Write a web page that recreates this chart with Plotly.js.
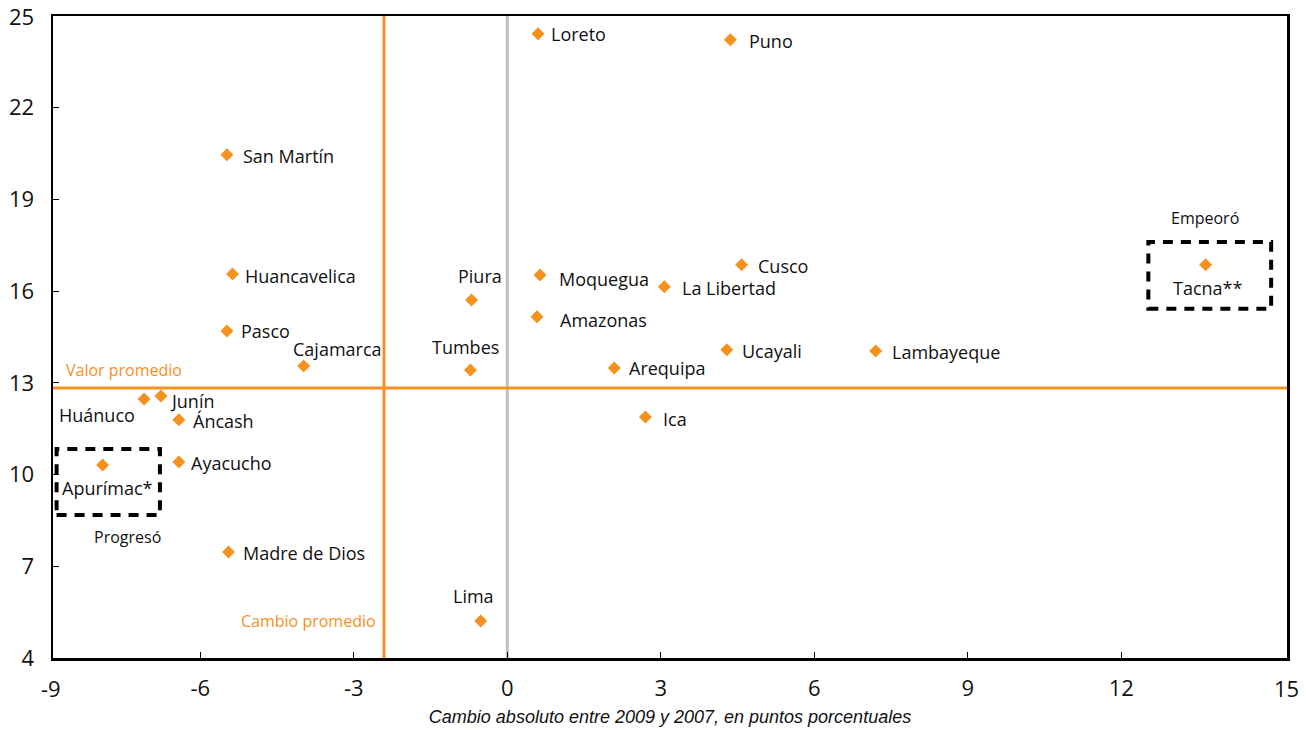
<!DOCTYPE html>
<html><head><meta charset="utf-8">
<script src="https://cdn.plot.ly/plotly-3.0.1.min.js"></script>
<style>html,body{margin:0;padding:0;background:#fff}#chart{width:1306px;height:730px}</style>
</head><body><div id="chart"></div>
<script>
// ---- data ----
const regions = ['Loreto','Puno','San Martín','Huancavelica','Pasco','Cajamarca','Junín','Huánuco','Áncash','Ayacucho','Apurímac*','Madre de Dios','Lima','Piura','Tumbes','Moquegua','Amazonas','La Libertad','Cusco','Arequipa','Ucayali','Lambayeque','Ica','Tacna**'];
const changeX = [0.60, 4.36, -5.48, -5.37, -5.48, -3.98, -6.77, -7.10, -6.42, -6.42, -7.91, -5.45, -0.52, -0.70, -0.72, 0.64, 0.58, 3.07, 4.58, 2.09, 4.29, 7.20, 2.70, 13.65];
const valueY = [24.42, 24.22, 20.46, 16.56, 14.70, 13.55, 12.57, 12.47, 11.79, 10.41, 10.31, 7.47, 5.21, 15.71, 13.42, 16.53, 15.16, 16.14, 16.86, 13.49, 14.08, 14.04, 11.88, 16.86];
const meanChange = -2.41;
const meanValue = 12.83;
const xTicks = [-9, -6, -3, 0, 3, 6, 9, 12, 15];
const yTicks = [4, 7, 10, 13, 16, 19, 22, 25];
const xRange = [-8.88, 15.24];   // axis extent as drawn in the source (end labels -9 / 15 sit on the frame)
const yRange = [4, 25];
const xTitle = 'Cambio absoluto entre 2009 y 2007, en puntos porcentuales';
// highlighted groups (box bounds in data units)
const improvedBox = {x0: -8.81, x1: -6.79, y0: 8.68, y1: 10.84};
const worsenedBox = {x0: 12.53, x1: 14.93, y0: 15.42, y1: 17.61};

// ---- label placement (style) ----
const labelStyle = {
 'Loreto': ['left', 11, 0], 'Puno': ['left', 17, -1], 'San Martín': ['left', 14, -1],
 'Huancavelica': ['left', 10, -2], 'Pasco': ['left', 12, 0], 'Cajamarca': ['center', 34, 17],
 'Junín': ['left', 7, -5], 'Huánuco': ['center', -47, -16], 'Áncash': ['left', 12, -1],
 'Ayacucho': ['left', 10, -1], 'Apurímac*': ['center', 5, -23], 'Madre de Dios': ['left', 13, -1],
 'Lima': ['center', -7, 25], 'Piura': ['center', 8, 24], 'Tumbes': ['center', -5, 23],
 'Moquegua': ['left', 17, -4], 'Amazonas': ['left', 21, -3], 'La Libertad': ['left', 16, -1],
 'Cusco': ['left', 14, -1], 'Arequipa': ['left', 13, 0], 'Ucayali': ['left', 13, -1],
 'Lambayeque': ['left', 14, -1], 'Ica': ['left', 16, -2], 'Tacna**': ['center', 2, -23]
};

const ORANGE = '#F5911E';
const FONT = '"Open Sans", "DejaVu Sans", sans-serif';
const TICKSIZE = 22;

const annotations = regions.map((r, i) => {
  const s = labelStyle[r];
  return {x: changeX[i], y: valueY[i], xref: 'x', yref: 'y', text: r, showarrow: false,
    xanchor: s[0], yanchor: 'middle', xshift: s[1], yshift: s[2],
    font: {family: FONT, size: 18, color: '#111'}};
});
annotations.push(
  {x: xRange[0], y: meanValue, xref: 'x', yref: 'y', text: 'Valor promedio', showarrow: false, xanchor: 'left', yanchor: 'middle', xshift: 11, yshift: 18, font: {family: FONT, size: 16, color: ORANGE}},
  {x: meanChange, y: 5.2, xref: 'x', yref: 'y', text: 'Cambio promedio', showarrow: false, xanchor: 'right', yanchor: 'middle', xshift: -6, font: {family: FONT, size: 16, color: ORANGE}},
  {x: 13.63, y: 18.40, xref: 'x', yref: 'y', text: 'Empeoró', showarrow: false, font: {family: FONT, size: 16, color: '#111'}},
  {x: -7.42, y: 7.96, xref: 'x', yref: 'y', text: 'Progresó', showarrow: false, font: {family: FONT, size: 16, color: '#111'}}
);
// end tick labels that sit on the frame
[xTicks[0], xTicks[xTicks.length - 1]].forEach((v, k) => {
  annotations.push({x: k, y: 0, xref: 'paper', yref: 'paper', text: String(v), showarrow: false,
    xanchor: 'center', yanchor: 'middle', xshift: k ? -1 : -2, yshift: -30,
    font: {family: FONT, size: TICKSIZE, color: '#111'}});
});
const topY = yTicks[yTicks.length - 1];
annotations.push({x: 0, y: topY, xref: 'paper', yref: 'y', text: String(topY), showarrow: false,
  xanchor: 'right', yanchor: 'middle', xshift: -17, font: {family: FONT, size: TICKSIZE, color: '#111'}});
const innerXTicks = xTicks.slice(1, -1);
const innerYTicks = yTicks.slice(0, -1);

const boxLine = {color: '#000', width: 4, dash: '10px,8px'};
const shapes = [
  {type: 'line', xref: 'x', yref: 'paper', x0: 0, x1: 0, y0: 0, y1: 1, line: {color: '#C0C0C0', width: 3}, layer: 'below'},
  {type: 'line', xref: 'x', yref: 'paper', x0: meanChange, x1: meanChange, y0: 0, y1: 1, line: {color: ORANGE, width: 3}, layer: 'below'},
  {type: 'line', xref: 'paper', yref: 'y', x0: 0, x1: 1, y0: meanValue, y1: meanValue, line: {color: ORANGE, width: 3}, layer: 'below'},
  Object.assign({type: 'rect', xref: 'x', yref: 'y', line: boxLine, fillcolor: 'rgba(0,0,0,0)'}, improvedBox),
  Object.assign({type: 'rect', xref: 'x', yref: 'y', line: boxLine, fillcolor: 'rgba(0,0,0,0)'}, worsenedBox)
];

const trace = {x: changeX, y: valueY, text: regions, type: 'scatter', mode: 'markers',
  marker: {symbol: 'diamond', size: 10, color: ORANGE}, hoverinfo: 'text+x+y', cliponaxis: false};

const axisCommon = {showgrid: false, zeroline: false, showline: true, linecolor: '#000', linewidth: 2.5,
  mirror: true, ticks: 'inside', ticklen: 6, tickwidth: 1, tickcolor: '#000',
  tickfont: {family: FONT, size: TICKSIZE, color: '#111'}};

const layout = {
  width: 1306, height: 730, paper_bgcolor: '#fff', plot_bgcolor: '#fff', showlegend: false,
  margin: {l: 53, r: 19, t: 16, b: 72},
  xaxis: Object.assign({}, axisCommon, {range: xRange, tickvals: innerXTicks, ticktext: innerXTicks.map(String), ticklabelstandoff: 9,
    title: {text: xTitle, font: {family: '"Liberation Sans", Arial, sans-serif', size: 18, color: '#111', style: 'italic'}, standoff: 10}}),
  yaxis: Object.assign({}, axisCommon, {range: yRange, tickvals: innerYTicks, ticktext: innerYTicks.map(String), ticklabelstandoff: 12}),
  shapes: shapes, annotations: annotations
};

Plotly.newPlot('chart', [trace], layout, {displayModeBar: false, staticPlot: true});
</script></body></html>
